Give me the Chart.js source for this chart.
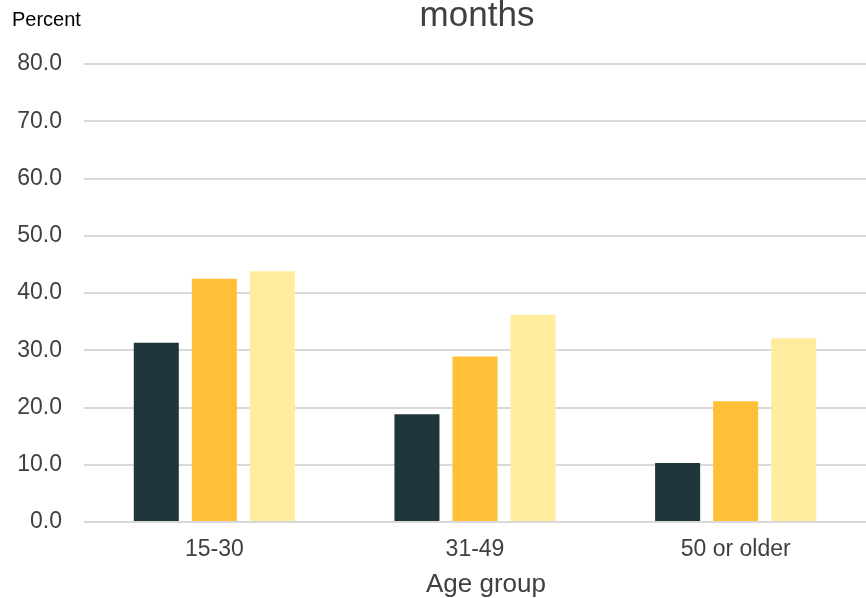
<!DOCTYPE html>
<html>
<head>
<meta charset="utf-8">
<script src="https://cdn.jsdelivr.net/npm/chart.js@4"></script>
<style>
  html, body { margin: 0; padding: 0; background: #ffffff; }
  #wrap { width: 866px; height: 598px; position: relative; }
</style>
</head>
<body>
<div id="wrap"><canvas id="c" width="866" height="598"></canvas></div>
<script>
const categories = ["15-30", "31-49", "50 or older"];
const seriesA = [31.3, 18.8, 10.3];
const seriesB = [42.5, 28.9, 21.1];
const seriesC = [43.8, 36.2, 32.1];
const yMin = 0, yMax = 80, yStep = 10;
const titleText = "months";
const yLabelText = "Percent";
const xTitleText = "Age group";

const FONT = '"Liberation Sans", Arial, sans-serif';

const textPlugin = {
  id: 'extraText',
  afterDraw(chart) {
    const ctx = chart.ctx;
    ctx.save();
    ctx.fillStyle = '#000000';
    ctx.font = '20px ' + FONT;
    ctx.textAlign = 'left';
    ctx.textBaseline = 'middle';
    ctx.fillText(yLabelText, 12, 20);
    ctx.fillStyle = '#404040';
    ctx.font = '35px ' + FONT;
    ctx.textAlign = 'center';
    ctx.textBaseline = 'alphabetic';
    ctx.fillText(titleText, 477, 26);
    ctx.font = '26px ' + FONT;
    ctx.fillText(xTitleText, 486, 592);
    ctx.restore();
  }
};

new Chart(document.getElementById('c'), {
  type: 'bar',
  data: {
    labels: categories,
    datasets: [
      { label: 'A', data: seriesA, backgroundColor: '#1f363d' },
      { label: 'B', data: seriesB, backgroundColor: '#ffbf36' },
      { label: 'C', data: seriesC, backgroundColor: '#ffec9e' }
    ]
  },
  options: {
    responsive: false,
    animation: false,
    layout: { padding: { top: 64, right: 0, left: 0, bottom: 0 } },
    datasets: { bar: { barPercentage: 0.776, categoryPercentage: 0.668 } },
    plugins: { legend: { display: false }, tooltip: { enabled: false } },
    scales: {
      x: {
        grid: { display: false, drawTicks: false },
        border: { display: false },
        ticks: { color: '#404040', font: { family: FONT, size: 23 }, padding: 14 },
        title: { display: false, text: xTitleText },
        afterFit(s) { s.height = 76; }
      },
      y: {
        min: yMin, max: yMax,
        grid: { color: '#d9d9d9', lineWidth: 2, drawTicks: false },
        border: { display: false },
        ticks: { stepSize: yStep, color: '#404040', font: { family: FONT, size: 23 }, padding: 22, callback: v => Number(v).toFixed(1) },
        afterFit(s) { s.width = 84; }
      }
    }
  },
  plugins: [textPlugin]
});
</script>
</body>
</html>
